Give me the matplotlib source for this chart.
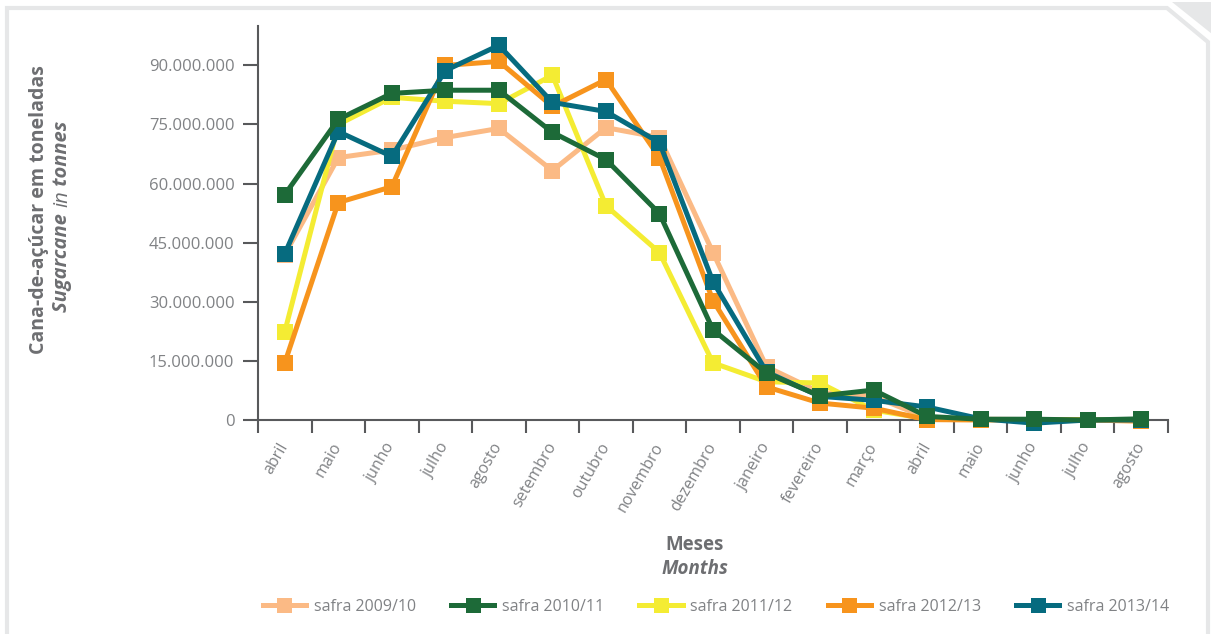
import matplotlib
matplotlib.use("Agg")
import matplotlib.pyplot as plt
from matplotlib.lines import Line2D
from matplotlib.patches import Polygon
from matplotlib.ticker import FuncFormatter, FixedLocator

plt.rcParams['font.family'] = ['Open Sans', 'DejaVu Sans']

months = ['abril', 'maio', 'junho', 'julho', 'agosto', 'setembro', 'outubro',
          'novembro', 'dezembro', 'janeiro', 'fevereiro', 'março', 'abril',
          'maio', 'junho', 'julho', 'agosto']

# values in millions of tonnes
safra_2009_10 = [42.0, 66.6, 68.5, 71.7, 74.0, 63.3, 74.2, 71.7, 42.5, 13.5, 7.0, 6.0, 0.5, 0.2, 0.1, 0.0, 0.0]
safra_2010_11 = [57.2, 76.3, 82.9, 83.7, 83.7, 73.0, 66.1, 52.4, 22.9, 11.9, 6.1, 7.6, 0.9, 0.2, 0.2, 0.0, 0.3]
safra_2011_12 = [22.4, 75.0, 81.9, 80.9, 80.3, 87.5, 54.4, 42.5, 14.5, 9.7, 9.4, 2.5, 0.3, 0.1, 0.1, 0.1, 0.1]
safra_2012_13 = [14.5, 55.2, 59.2, 90.0, 91.0, 79.6, 86.4, 66.6, 30.3, 8.4, 4.3, 3.0, 0.1, 0.0, 0.0, 0.0, -0.3]
safra_2013_14 = [42.2, 73.2, 66.9, 88.7, 95.1, 80.6, 78.3, 70.4, 35.1, 12.2, 6.0, 5.0, 3.3, 0.3, -0.8, 0.0, 0.0]

series_names = ['safra 2009/10', 'safra 2010/11', 'safra 2011/12', 'safra 2012/13', 'safra 2013/14']
series_values = [safra_2009_10, safra_2010_11, safra_2011_12, safra_2012_13, safra_2013_14]
colors = ['#FBBA85', '#1D6A38', '#F4EC33', '#F7941D', '#066B7F']
zorders = [3, 7, 4, 5, 6]

W, H = 1211, 634
fig = plt.figure(figsize=(W / 100, H / 100), dpi=100)


def px(x, y):
    return (x / W, 1 - y / H)


ax_l, ax_r, ax_t, ax_b = 258, 1168, 26, 420
ax = fig.add_axes([ax_l / W, 1 - ax_b / H, (ax_r - ax_l) / W, (ax_b - ax_t) / H])

xs = list(range(len(months)))
handles = []
for name, vals, c, z in zip(series_names, series_values, colors, zorders):
    yv = [v * 1e6 for v in vals]
    ln, = ax.plot(xs, yv, color=c, lw=3.6, marker='s', markersize=12,
                  markeredgewidth=0, solid_joinstyle='miter', zorder=z, label=name,
                  clip_on=False)
    handles.append(ln)

ax.set_xlim(-0.5, len(months) - 0.5)
ax.set_ylim(0, 100e6)

gray_axis = '#58595B'
text_gray = '#808285'
for s in ['top', 'right']:
    ax.spines[s].set_visible(False)
for s in ['left', 'bottom']:
    ax.spines[s].set_color(gray_axis)
    ax.spines[s].set_linewidth(1.5)

ax.set_yticks([0, 15e6, 30e6, 45e6, 60e6, 75e6, 90e6])
ax.yaxis.set_major_formatter(FuncFormatter(lambda v, p: f"{int(v):,}".replace(',', '.')))
ax.tick_params(axis='y', length=11, width=1.5, color=gray_axis, pad=6,
               labelsize=12, labelcolor=text_gray)

ax.set_xticks(xs)
ax.set_xticklabels(months, rotation=60)
ax.tick_params(axis='x', which='major', length=0, pad=17, labelsize=11.5, labelcolor=text_gray)
for lbl in ax.get_xticklabels():
    lbl.set_rotation_mode('anchor')
    lbl.set_ha('right')
    lbl.set_va('center')
ax.xaxis.set_minor_locator(FixedLocator([i - 0.5 for i in range(len(months) + 1)]))
ax.tick_params(axis='x', which='minor', length=9, width=1.5, color=gray_axis)

# axis titles
label_gray = '#6D6E71'
fig.text(*px(695, 545), 'Meses', ha='center', va='center', fontsize=13.5,
         fontweight='bold', color=label_gray)
fig.text(*px(695, 569), 'Months', ha='center', va='center', fontsize=13.5,
         fontweight='bold', style='italic', color=label_gray)
fig.text(*px(39, 210), 'Cana-de-açúcar em toneladas', ha='center', va='center',
         rotation=90, fontsize=14, fontweight='bold', color=label_gray)

# second y-label line with mixed styles
pieces = [('Sugarcane ', 'bold'), ('in', 'normal'), (' tonnes', 'bold')]
texts = []
for s, w in pieces:
    t = fig.text(0, 0, s, rotation=90, rotation_mode='anchor', ha='left', va='center',
                 fontsize=14.5, fontweight=w, style='italic', color=label_gray)
    texts.append(t)
fig.canvas.draw()
r = fig.canvas.get_renderer()
lens = [t.get_window_extent(r).height for t in texts]
total = sum(lens)
ystart = (H - 216) - total / 2  # display coords (from bottom)
cur = ystart
for t, L in zip(texts, lens):
    t.set_position((62 / W, cur / H))
    cur += L

# legend
leg = fig.legend(handles=handles, loc='center', bbox_to_anchor=(px(716, 607)),
                 ncol=5, frameon=False, fontsize=11.5, handlelength=2.7,
                 columnspacing=2.2, handletextpad=0.5, markerscale=0.9)
for t in leg.get_texts():
    t.set_color(text_gray)

# frame
fc = '#E6E7E8'
frame_pts = [px(7, 650), px(7, 8), px(1167, 8), px(1208, 42), px(1208, 650)]
fig.add_artist(Line2D([p[0] for p in frame_pts], [p[1] for p in frame_pts],
                      color=fc, lw=3, solid_joinstyle='miter'))
fig.add_artist(Polygon([px(1172, 2), px(1212, 2), px(1212, 34)], closed=True,
                       facecolor=fc, edgecolor='none'))

fig.savefig('out.png', dpi=100)
